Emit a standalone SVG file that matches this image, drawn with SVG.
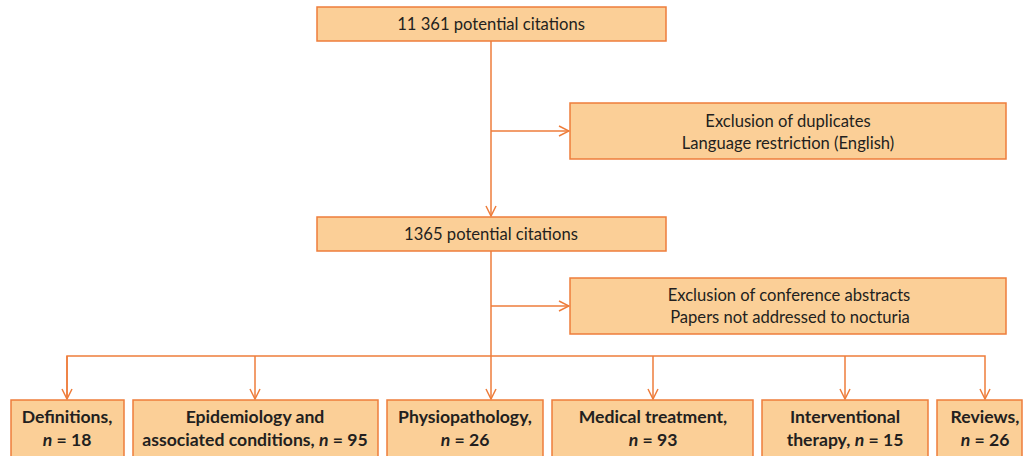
<svg xmlns="http://www.w3.org/2000/svg" width="1024" height="456" viewBox="0 0 1024 456">
<defs>
<style>
.box{fill:#fbcf97;stroke:#ee7d3b;stroke-width:1.5}
.t{font-family:Lato,"Open Sans","Liberation Sans",sans-serif;font-size:16.6px;fill:#231f20;text-anchor:middle}
.b{font-weight:bold;font-size:17.6px}
.c{fill:none;stroke:#ee7d3b;stroke-width:1.5}
</style>
<marker id="ah" viewBox="0 0 12 12" refX="11" refY="6" markerWidth="12" markerHeight="12" markerUnits="userSpaceOnUse" orient="auto">
<path d="M1,1 L11,6 L1,11" fill="none" stroke="#ee7d3b" stroke-width="1.5"/>
</marker>
</defs>
<rect width="1024" height="456" fill="#ffffff"/>
<g id="connectors">
<line class="c" x1="491" y1="41" x2="491" y2="216" marker-end="url(#ah)"/>
<line class="c" x1="491" y1="131" x2="569" y2="131" marker-end="url(#ah)"/>
<line class="c" x1="491" y1="251" x2="491" y2="399" marker-end="url(#ah)"/>
<line class="c" x1="491" y1="306" x2="569" y2="306" marker-end="url(#ah)"/>
<polyline class="c" points="67,399 67,356 985,356 985,399" marker-end="url(#ah)"/>
<line class="c" x1="67" y1="356" x2="67" y2="399" marker-end="url(#ah)"/>
<line class="c" x1="255" y1="356" x2="255" y2="399" marker-end="url(#ah)"/>
<line class="c" x1="653" y1="356" x2="653" y2="399" marker-end="url(#ah)"/>
<line class="c" x1="845" y1="356" x2="845" y2="399" marker-end="url(#ah)"/>
</g>
<g id="n1">
<rect class="box" x="317" y="7" width="349" height="34"/>
<text class="t" x="491" y="30">11 361 potential citations</text>
</g>
<g id="n2">
<rect class="box" x="570" y="103" width="436" height="56"/>
<text class="t" x="788" y="127">Exclusion of duplicates</text>
<text class="t" x="788" y="149">Language restriction (English)</text>
</g>
<g id="n3">
<rect class="box" x="317" y="217" width="349" height="34"/>
<text class="t" x="491" y="240">1365 potential citations</text>
</g>
<g id="n4">
<rect class="box" x="570" y="278" width="436" height="56"/>
<text class="t" x="789" y="301">Exclusion of conference abstracts</text>
<text class="t" x="790" y="323">Papers not addressed to nocturia</text>
</g>
<g id="n5">
<rect class="box" x="11" y="400" width="113" height="60"/>
<text class="t b" x="67" y="423">Definitions,</text>
<text class="t b" x="67" y="446"><tspan font-style="italic">n</tspan> = 18</text>
</g>
<g id="n6">
<rect class="box" x="133" y="400" width="245" height="60"/>
<text class="t b" x="255" y="423">Epidemiology and</text>
<text class="t b" x="255" y="446">associated conditions, <tspan font-style="italic">n</tspan> = 95</text>
</g>
<g id="n7">
<rect class="box" x="387" y="400" width="156" height="60"/>
<text class="t b" x="465" y="423">Physiopathology,</text>
<text class="t b" x="465" y="446"><tspan font-style="italic">n</tspan> = 26</text>
</g>
<g id="n8">
<rect class="box" x="552" y="400" width="201" height="60"/>
<text class="t b" x="653" y="423">Medical treatment,</text>
<text class="t b" x="653" y="446"><tspan font-style="italic">n</tspan> = 93</text>
</g>
<g id="n9">
<rect class="box" x="762" y="400" width="166" height="60"/>
<text class="t b" x="845" y="423">Interventional</text>
<text class="t b" x="845" y="446">therapy, <tspan font-style="italic">n</tspan> = 15</text>
</g>
<g id="n10">
<rect class="box" x="937" y="400" width="85" height="60"/>
<text class="t b" x="985" y="423">Reviews,</text>
<text class="t b" x="985" y="446"><tspan font-style="italic">n</tspan> = 26</text>
</g>
</svg>
